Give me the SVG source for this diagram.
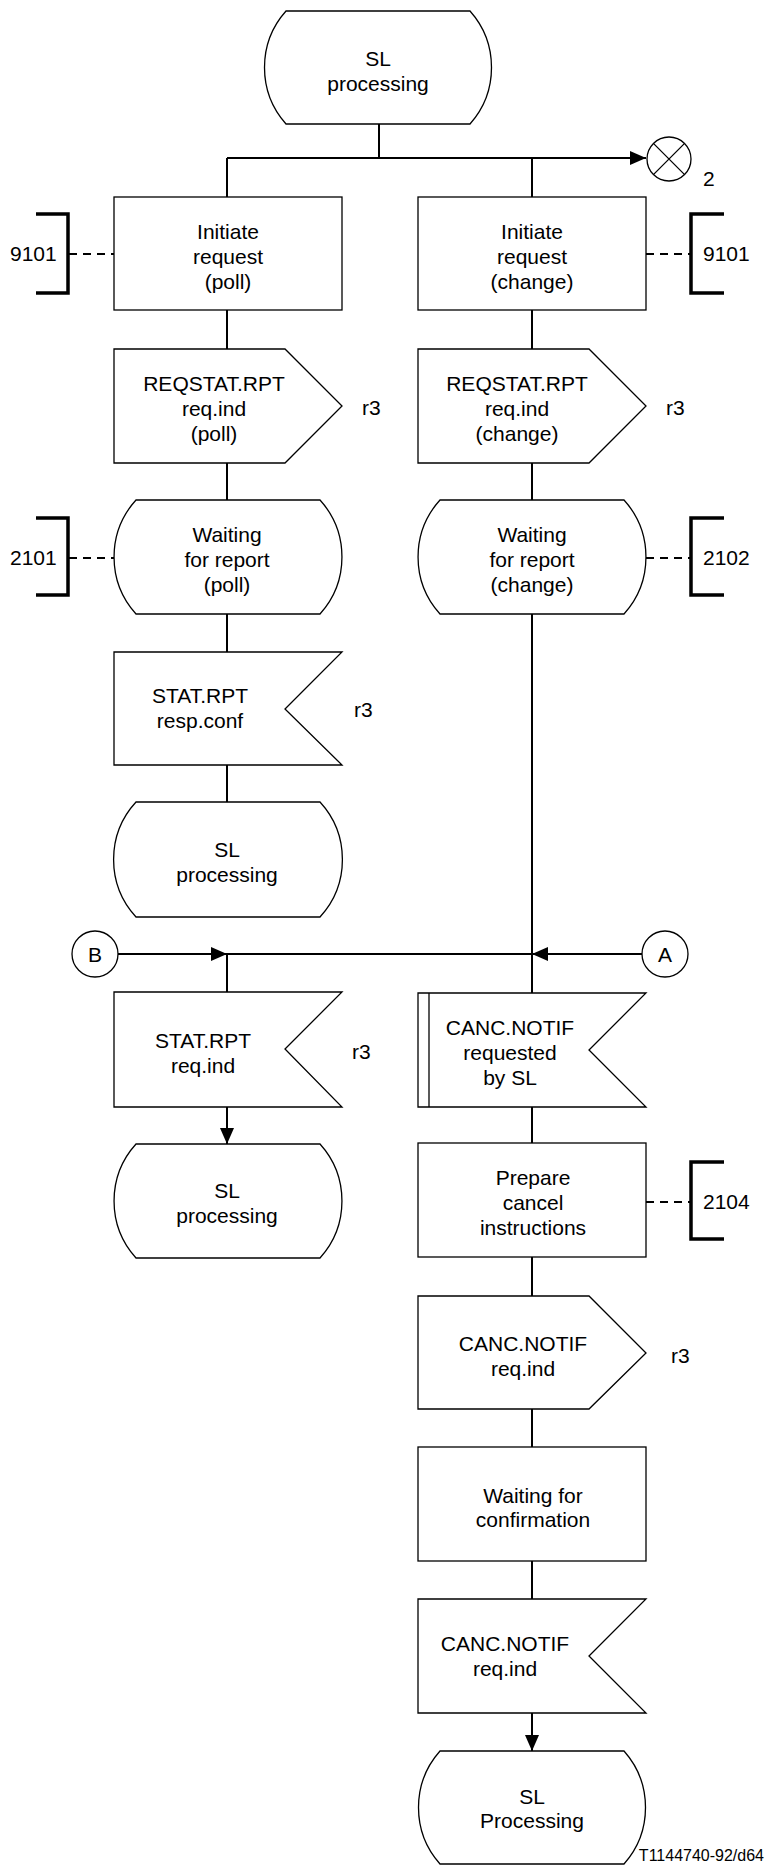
<svg xmlns="http://www.w3.org/2000/svg" width="765" height="1865" viewBox="0 0 765 1865">
<style>
.s{fill:#fff;stroke:#000;stroke-width:1.3}
.c{fill:none;stroke:#000;stroke-width:2}
.d{fill:none;stroke:#000;stroke-width:1.8;stroke-dasharray:8 6}
.b{fill:none;stroke:#000;stroke-width:3.5}
text{font-family:"Liberation Sans",Arial,sans-serif;font-size:21px;fill:#000}
.m{text-anchor:middle}
.lab{font-size:16px;text-anchor:end}
</style>
<defs>
<marker id="ah" markerUnits="userSpaceOnUse" markerWidth="16" markerHeight="14" refX="16" refY="7" orient="auto">
<path d="M0,0 L16,7 L0,14 Z" fill="#000"/>
</marker>
</defs>
<rect width="765" height="1865" fill="#fff"/>
<g id="connectors">
<path class="c" d="M379,124 V158"/>
<path class="c" d="M227,158 H646" marker-end="url(#ah)"/>
<path class="c" d="M227,158 V197 M532,158 V197"/>
<path class="c" d="M227,310 V349 M532,310 V349"/>
<path class="c" d="M227,463 V500 M532,463 V500"/>
<path class="c" d="M227,614 V652"/>
<path class="c" d="M227,765 V802"/>
<path class="c" d="M532,614 V993"/>
<path class="c" d="M118,954 H227" marker-end="url(#ah)"/>
<path class="c" d="M642,954 H532" marker-end="url(#ah)"/>
<path class="c" d="M227,954 H532"/>
<path class="c" d="M227,954 V992"/>
<path class="c" d="M227,1107 V1144" marker-end="url(#ah)"/>
<path class="c" d="M532,1107 V1143"/>
<path class="c" d="M532,1257 V1296"/>
<path class="c" d="M532,1409 V1447"/>
<path class="c" d="M532,1561 V1599"/>
<path class="c" d="M532,1713 V1751" marker-end="url(#ah)"/>
<path class="d" d="M69,254 H114 M646,254 H691"/>
<path class="d" d="M69,558 H114 M646,558 H691"/>
<path class="d" d="M646,1202 H691"/>
</g>
<g id="start">
<path class="s" d="M286,11 H470 A85,85 0 0 1 470,124 H286 A85,85 0 0 1 286,11 Z"/>
<text class="m" x="378" y="66">SL</text>
<text class="m" x="378" y="91">processing</text>
</g>
<g id="conn2">
<circle class="s" cx="669" cy="159" r="22"/>
<path class="s" d="M653.4,143.4 L684.6,174.6 M684.6,143.4 L653.4,174.6"/>
<text x="703" y="186">2</text>
</g>
<g id="init_poll">
<rect class="s" x="114" y="197" width="228" height="113"/>
<text class="m" x="228" y="239">Initiate</text>
<text class="m" x="228" y="264">request</text>
<text class="m" x="228" y="289">(poll)</text>
</g>
<g id="init_change">
<rect class="s" x="418" y="197" width="228" height="113"/>
<text class="m" x="532" y="239">Initiate</text>
<text class="m" x="532" y="264">request</text>
<text class="m" x="532" y="289">(change)</text>
</g>
<g id="ref9101_left">
<path class="b" d="M36,214 H68 V293 H36"/>
<text x="10" y="261">9101</text>
</g>
<g id="ref9101_right">
<path class="b" d="M724,214 H691 V293 H724"/>
<text x="703" y="261">9101</text>
</g>
<g id="out_poll">
<path class="s" d="M114,349 L285,349 L342,406 L285,463 L114,463 Z"/>
<text class="m" x="214" y="391">REQSTAT.RPT</text>
<text class="m" x="214" y="416">req.ind</text>
<text class="m" x="214" y="441">(poll)</text>
<text x="362" y="415">r3</text>
</g>
<g id="out_change">
<path class="s" d="M418,349 L589,349 L646,406 L589,463 L418,463 Z"/>
<text class="m" x="517" y="391">REQSTAT.RPT</text>
<text class="m" x="517" y="416">req.ind</text>
<text class="m" x="517" y="441">(change)</text>
<text x="666" y="415">r3</text>
</g>
<g id="wait_poll">
<path class="s" d="M136,500 H320 A85,85 0 0 1 320,614 H136 A85,85 0 0 1 136,500 Z"/>
<text class="m" x="227" y="542">Waiting</text>
<text class="m" x="227" y="567">for report</text>
<text class="m" x="227" y="592">(poll)</text>
</g>
<g id="ref2101">
<path class="b" d="M36,518 H68 V595 H36"/>
<text x="10" y="565">2101</text>
</g>
<g id="wait_change">
<path class="s" d="M440,500 H624 A85,85 0 0 1 624,614 H440 A85,85 0 0 1 440,500 Z"/>
<text class="m" x="532" y="542">Waiting</text>
<text class="m" x="532" y="567">for report</text>
<text class="m" x="532" y="592">(change)</text>
</g>
<g id="ref2102">
<path class="b" d="M724,518 H691 V595 H724"/>
<text x="703" y="565">2102</text>
</g>
<g id="in_stat_resp">
<path class="s" d="M114,652 L342,652 L285,709 L342,765 L114,765 Z"/>
<text class="m" x="200" y="703">STAT.RPT</text>
<text class="m" x="200" y="728">resp.conf</text>
<text x="354" y="717">r3</text>
</g>
<g id="sl_poll">
<path class="s" d="M136,802 H320 A85,85 0 0 1 320,917 H136 A85,85 0 0 1 136,802 Z"/>
<text class="m" x="227" y="857">SL</text>
<text class="m" x="227" y="882">processing</text>
</g>
<g id="connB">
<circle class="s" cx="95" cy="954" r="23"/>
<text class="m" x="95" y="961.5">B</text>
</g>
<g id="connA">
<circle class="s" cx="665" cy="954" r="23"/>
<text class="m" x="665" y="961.5">A</text>
</g>
<g id="in_stat_req">
<path class="s" d="M114,992 L342,992 L285,1049 L342,1107 L114,1107 Z"/>
<text class="m" x="203" y="1048">STAT.RPT</text>
<text class="m" x="203" y="1073">req.ind</text>
<text x="352" y="1059">r3</text>
</g>
<g id="sl_poll2">
<path class="s" d="M136,1144 H320 A85,85 0 0 1 320,1258 H136 A85,85 0 0 1 136,1144 Z"/>
<text class="m" x="227" y="1198">SL</text>
<text class="m" x="227" y="1223">processing</text>
</g>
<g id="in_canc_requested">
<path class="s" d="M418,993 L646,993 L589,1050 L646,1107 L418,1107 Z"/>
<path class="s" d="M429,993 V1107"/>
<text class="m" x="510" y="1035">CANC.NOTIF</text>
<text class="m" x="510" y="1060">requested</text>
<text class="m" x="510" y="1085">by SL</text>
</g>
<g id="prepare">
<rect class="s" x="418" y="1143" width="228" height="114"/>
<text class="m" x="533" y="1185">Prepare</text>
<text class="m" x="533" y="1210">cancel</text>
<text class="m" x="533" y="1235">instructions</text>
</g>
<g id="ref2104">
<path class="b" d="M724,1162 H691 V1239 H724"/>
<text x="703" y="1209">2104</text>
</g>
<g id="out_canc">
<path class="s" d="M418,1296 L589,1296 L646,1353 L589,1409 L418,1409 Z"/>
<text class="m" x="523" y="1351">CANC.NOTIF</text>
<text class="m" x="523" y="1376">req.ind</text>
<text x="671" y="1363">r3</text>
</g>
<g id="wait_conf">
<rect class="s" x="418" y="1447" width="228" height="114"/>
<text class="m" x="533" y="1503">Waiting for</text>
<text class="m" x="533" y="1527">confirmation</text>
</g>
<g id="in_canc_ind">
<path class="s" d="M418,1599 L646,1599 L589,1656 L646,1713 L418,1713 Z"/>
<text class="m" x="505" y="1651">CANC.NOTIF</text>
<text class="m" x="505" y="1676">req.ind</text>
</g>
<g id="sl_end">
<path class="s" d="M440,1751 H624 A85,85 0 0 1 624,1864 H440 A85,85 0 0 1 440,1751 Z"/>
<text class="m" x="532" y="1804">SL</text>
<text class="m" x="532" y="1828">Processing</text>
</g>
<g id="figure_label">
<text class="lab" x="764" y="1861">T1144740-92/d64</text>
</g>
</svg>
